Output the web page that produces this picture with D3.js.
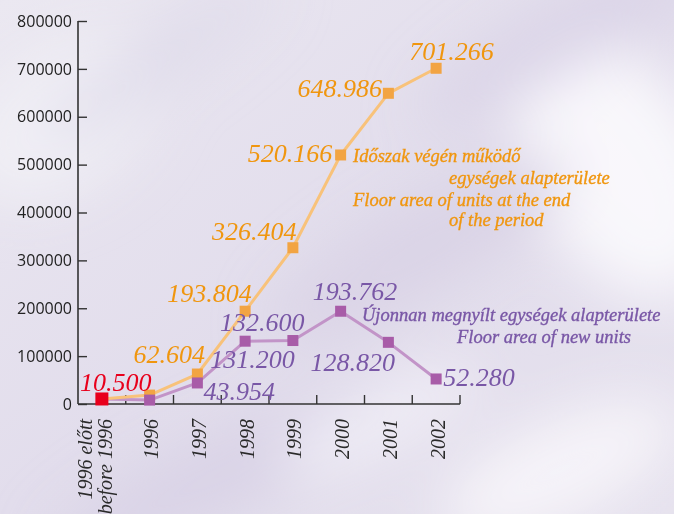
<!DOCTYPE html>
<html>
<head>
<meta charset="utf-8">
<script src="https://cdn.jsdelivr.net/npm/d3@7"></script>
<style>
  html, body { margin: 0; padding: 0; background: #e4e0ec; }
  svg { display: block; }
</style>
</head>
<body>
<script>
// ---------- data ----------
const categories = ["before1996", "1996", "1997", "1998", "1999", "2000", "2001", "2002"];
const categoryLines = [["1996 előtt", "before 1996"], ["1996"], ["1997"], ["1998"], ["1999"], ["2000"], ["2001"], ["2002"]];
const totalArea = [10500, 18650, 62604, 193804, 326404, 520166, 648986, 701266];
const newArea = [10500, 8150, 43954, 131200, 132600, 193762, 128820, 52280];
const yTicks = [0, 100000, 200000, 300000, 400000, 500000, 600000, 700000, 800000];
const totalLabeled = [2, 3, 4, 5, 6, 7];
const newLabeled = [2, 3, 4, 5, 6, 7];
const totalLegend = ["Időszak végén működő", "egységek alapterülete", "Floor area of units at the end", "of the period"];
const newLegend = ["Újonnan megnyílt egységek alapterülete", "Floor area of new units"];

// ---------- layout ----------
const W = 674, H = 514;
const mLeft = 78, mRight = 460, mTop = 21, mBottom = 404;
const totalOffsets = {2: [-64, -11], 3: [-78, -9], 4: [-81, -8], 5: [-93, 7], 6: [-91, 4], 7: [-27, -8]};
const newOffsets = {2: [6, 17], 3: [-35, 27], 4: [-73, -9.5], 5: [-28, -11], 6: [-78, 29], 7: [7, 7]};
const firstOffset = [-22, -8];
const totalLegendPos = [[353, 162], [449, 184], [353, 206], [449, 226]];
const newLegendPos = [[362, 321], [457, 343]];

const C = {
  orangeLine: "#f8c27a", orangeMark: "#f2a443", orangeText: "#f0960f",
  purpleLine: "#c294c8", purpleMark: "#a85ca8", purpleText: "#7957a6",
  red: "#e8001c", axis: "#333"
};

const fmtDot = v => d3.format(",")(v).replace(/,/g, ".");

const svg = d3.select("body").append("svg").attr("width", W).attr("height", H);

// ---------- background ----------
const defs = svg.append("defs");
const blur = defs.append("filter").attr("id", "blur").attr("x", "-50%").attr("y", "-50%").attr("width", "200%").attr("height", "200%");
blur.append("feGaussianBlur").attr("stdDeviation", 28);
const bgG = defs.append("linearGradient").attr("id", "bgG").attr("x1", 0).attr("y1", 0).attr("x2", 1).attr("y2", 1);
bgG.append("stop").attr("offset", "0%").attr("stop-color", "#ebe8f1");
bgG.append("stop").attr("offset", "50%").attr("stop-color", "#e2ddec");
bgG.append("stop").attr("offset", "100%").attr("stop-color", "#e6e2ee");
svg.append("rect").attr("width", W).attr("height", H).attr("fill", "url(#bgG)");
const blobs = [
  [60, 120, 110, 70, -35, "#f1eff5"],
  [620, 170, 90, 140, -30, "#fbfafd"],
  [560, 40, 160, 35, -30, "#d9d3e7"],
  [420, 250, 170, 45, -30, "#d9d3e6"],
  [230, 470, 200, 40, -25, "#d8d2e5"],
  [560, 470, 130, 50, -25, "#f7f5fa"],
  [380, 420, 110, 30, -25, "#f2f0f7"],
  [160, 60, 140, 25, -35, "#dedaea"]
];
const bg = svg.append("g").attr("filter", "url(#blur)");
blobs.forEach(b => bg.append("ellipse").attr("cx", b[0]).attr("cy", b[1]).attr("rx", b[2]).attr("ry", b[3])
  .attr("transform", `rotate(${b[4]},${b[0]},${b[1]})`).attr("fill", b[5]).attr("opacity", 0.9));

// ---------- scales ----------
const x = d3.scaleBand().domain(categories).range([mLeft, mRight]).padding(0);
const y = d3.scaleLinear().domain([0, 800000]).range([mBottom, mTop]);
const cx = c => x(c) + x.bandwidth() / 2;

// ---------- axes ----------
const yAxis = d3.axisLeft(y).tickValues(yTicks).tickFormat(d3.format("d")).tickSize(-9).tickPadding(6);
const gy = svg.append("g").attr("transform", `translate(${mLeft},0)`).call(yAxis);
gy.select(".domain").attr("stroke", C.axis).attr("stroke-width", 1.6).attr("d", `M0,${mTop}V${mBottom}`);
gy.selectAll(".tick line").attr("stroke", C.axis).attr("stroke-width", 1.4);
gy.selectAll(".tick text").attr("fill", "#222").style("font-family", "'Open Sans', sans-serif").style("font-size", "16px");

const gx = svg.append("g");
gx.append("line").attr("x1", mLeft).attr("x2", mRight).attr("y1", mBottom).attr("y2", mBottom)
  .attr("stroke", C.axis).attr("stroke-width", 1.6);
gx.selectAll("line.tk").data(categories).join("line").attr("class", "tk")
  .attr("x1", d => x(d) + x.bandwidth()).attr("x2", d => x(d) + x.bandwidth())
  .attr("y1", mBottom).attr("y2", mBottom - 9).attr("stroke", C.axis).attr("stroke-width", 1.4);

// x labels rotated
categories.forEach((c, i) => {
  const lines = categoryLines[i];
  const n = lines.length;
  lines.forEach((t, j) => {
    const bx = n === 1 ? cx(c) + 8.5 : cx(c) - 10 + j * 20;
    svg.append("text")
      .attr("transform", `translate(${bx},${mBottom + 15}) rotate(-90)`)
      .attr("text-anchor", "end")
      .style("font-family", "'Liberation Serif', 'Times New Roman', serif")
      .style("font-style", "italic").style("font-size", "20px")
      .attr("fill", "#2a2a2a")
      .text(t);
  });
});

// ---------- lines ----------
const line = d3.line().x((d, i) => cx(categories[i])).y(d => y(d));
svg.append("path").datum(newArea).attr("d", line).attr("fill", "none")
  .attr("stroke", C.purpleLine).attr("stroke-width", 3).attr("stroke-linejoin", "round");
svg.append("path").datum(totalArea).attr("d", line).attr("fill", "none")
  .attr("stroke", C.orangeLine).attr("stroke-width", 3).attr("stroke-linejoin", "round");

const ms = 11;
svg.selectAll("rect.mt").data(totalArea.slice(1)).join("rect").attr("class", "mt")
  .attr("x", (d, i) => cx(categories[i + 1]) - ms / 2).attr("y", d => y(d) - ms / 2)
  .attr("width", ms).attr("height", ms).attr("fill", C.orangeMark);
svg.selectAll("rect.mn").data(newArea.slice(1)).join("rect").attr("class", "mn")
  .attr("x", (d, i) => cx(categories[i + 1]) - ms / 2).attr("y", d => y(d) - ms / 2)
  .attr("width", ms).attr("height", ms).attr("fill", C.purpleMark);
svg.append("rect").attr("x", cx(categories[0]) - 6.5).attr("y", y(totalArea[0]) - 6.5)
  .attr("width", 13).attr("height", 13).attr("fill", C.red);

// ---------- value labels ----------
const valFont = sel => sel.style("font-family", "'Liberation Serif', 'Times New Roman', serif")
  .style("font-style", "italic").style("font-size", "26px");
totalLabeled.forEach(i => {
  const o = totalOffsets[i];
  svg.append("text").call(valFont).attr("fill", C.orangeText)
    .attr("x", cx(categories[i]) + o[0]).attr("y", y(totalArea[i]) + o[1]).text(fmtDot(totalArea[i]));
});
newLabeled.forEach(i => {
  const o = newOffsets[i];
  svg.append("text").call(valFont).attr("fill", C.purpleText)
    .attr("x", cx(categories[i]) + o[0]).attr("y", y(newArea[i]) + o[1]).text(fmtDot(newArea[i]));
});
svg.append("text").call(valFont).attr("fill", C.red)
  .attr("x", cx(categories[0]) + firstOffset[0]).attr("y", y(totalArea[0]) + firstOffset[1]).text(fmtDot(totalArea[0]));

// ---------- legends ----------
const legFont = (sel, col) => sel.style("font-family", "'Liberation Serif', 'Times New Roman', serif")
  .style("font-style", "italic").style("font-size", "18.5px")
  .attr("fill", col).attr("stroke", col).attr("stroke-width", 0.35);
totalLegend.forEach((t, i) => svg.append("text").call(legFont, C.orangeText)
  .attr("x", totalLegendPos[i][0]).attr("y", totalLegendPos[i][1]).text(t));
newLegend.forEach((t, i) => svg.append("text").call(legFont, C.purpleText)
  .attr("x", newLegendPos[i][0]).attr("y", newLegendPos[i][1]).text(t));
</script>
</body>
</html>
